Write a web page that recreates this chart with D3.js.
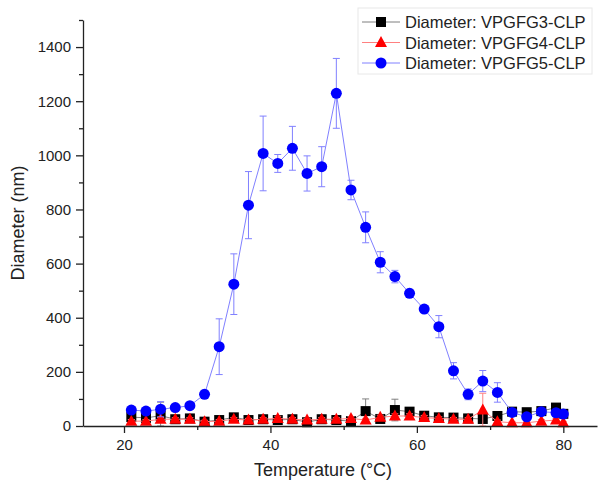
<!DOCTYPE html>
<html lang="en">
<head>
    <meta charset="UTF-8">
    <title>Diameter vs Temperature</title>
    <script src="https://d3js.org/d3.v7.min.js" charset="utf-8"></script>
    <style>
        body { margin: 0; background: #fff; }
        text { font-family: "Liberation Sans", Arial, sans-serif; fill: #222; }
    </style>
</head>
<body>
<script>
    // temperatures (°C)
    var temps = [21, 23, 25, 27, 29, 31, 33, 35, 37, 39, 41, 43, 45, 47, 49, 51, 53, 55, 57, 59,
                 61, 63, 65, 67, 69, 71, 73, 75, 77, 79, 80];

    // diameters (nm) and error bars, one array per sample
    var vpgfg3 = [33, 30, 38, 25, 28, 16, 22, 32, 22, 25, 22, 25, 14, 25, 22, 18, 55, 26, 59, 53,
                  38, 32, 31, 28, 26, 37, 53, 51, 55, 68, 45];
    var vpgfg3Err = [8, 6, 50, 6, 6, 5, 6, 8, 6, 6, 6, 6, 5, 6, 6, 6, 45, 8, 40, 10,
                     8, 6, 6, 6, 6, 6, 8, 8, 8, 10, 8];

    var vpgfg4 = [18, 18, 25, 25, 25, 16, 18, 25, 22, 25, 28, 25, 22, 25, 25, 28, 22, 32, 37, 37,
                  31, 28, 25, 25, 59, 16, 12, 12, 18, 22, 12];
    var vpgfg4Err = [6, 6, 6, 6, 6, 5, 6, 6, 6, 6, 8, 6, 6, 6, 6, 6, 6, 8, 8, 8,
                     8, 6, 6, 6, 62, 6, 5, 5, 6, 6, 5];

    var vpgfg5 = [59, 55, 62, 68, 75, 117, 293, 524, 816, 1007, 970, 1026, 933, 958, 1229, 872, 734, 605, 552, 490,
                  432, 367, 204, 117, 166, 124, 50, 34, 53, 49, 44];
    var vpgfg5Err = [8, 8, 28, 8, 8, 15, 103, 112, 124, 138, 33, 81, 65, 74, 129, 36, 57, 39, 23, 15,
                     10, 41, 30, 20, 39, 36, 10, 10, 10, 10, 8];

    var seriesNames = ["Diameter: VPGFG3-CLP", "Diameter: VPGFG4-CLP", "Diameter: VPGFG5-CLP"];
    var xTicks = [20, 40, 60, 80];
    var yTicks = [0, 200, 400, 600, 800, 1000, 1200, 1400];

    var width = 598, height = 494;
    var svg = d3.select("body").append("svg")
        .attr("width", width)
        .attr("height", height);

    // scales
    var x = d3.scaleLinear().domain([14.4, 84.6]).range([83, 597]);
    var y = d3.scaleLinear().domain([0, 1500]).range([426, 20]);

    var series = [
        {name: seriesNames[0], vals: vpgfg3, errs: vpgfg3Err, dot: "#000000", line: "#7f7f7f", shape: "square"},
        {name: seriesNames[1], vals: vpgfg4, errs: vpgfg4Err, dot: "#ff0000", line: "#ff8080", shape: "triangle"},
        {name: seriesNames[2], vals: vpgfg5, errs: vpgfg5Err, dot: "#0000ff", line: "#8080ff", shape: "circle"}
    ];

    function marker(g, s, cx, cy) {
        if (s.shape == "square") {
            g.append("rect").attr("x", cx - 5).attr("y", cy - 5)
                .attr("width", 10).attr("height", 10).attr("fill", s.dot);
        } else if (s.shape == "triangle") {
            g.append("path")
                .attr("d", "M" + cx + "," + (cy - 6.5) + "L" + (cx + 6) + "," + (cy + 4.5) + "L" + (cx - 6) + "," + (cy + 4.5) + "Z")
                .attr("fill", s.dot);
        } else {
            g.append("circle").attr("cx", cx).attr("cy", cy).attr("r", 5.5).attr("fill", s.dot);
        }
    }

    var line = d3.line()
        .x(function(d) { return x(d.t); })
        .y(function(d) { return y(d.v); });

    series.forEach(function(s) {
        var pts = temps.map(function(t, i) { return {t: t, v: s.vals[i], e: s.errs[i]}; });
        var g = svg.append("g");

        // error bars
        pts.forEach(function(d) {
            var top = y(d.v + d.e), bot = y(Math.max(0, d.v - d.e)), cx = x(d.t);
            g.append("path")
                .attr("d", "M" + cx + "," + top + "V" + bot +
                    "M" + (cx - 3.5) + "," + top + "H" + (cx + 3.5) +
                    "M" + (cx - 3.5) + "," + bot + "H" + (cx + 3.5))
                .attr("stroke", s.line).attr("stroke-width", 1).attr("fill", "none");
        });

        g.append("path").datum(pts)
            .attr("d", line)
            .attr("fill", "none")
            .attr("stroke", s.line)
            .attr("stroke-width", 1);

        pts.forEach(function(d) { marker(g, s, x(d.t), y(d.v)); });
    });

    // X axis
    svg.append("g")
        .attr("transform", "translate(0,426)")
        .call(d3.axisBottom(x).tickValues(xTicks).tickFormat(d3.format("d")).tickSize(7).tickPadding(6).tickSizeOuter(0));
    svg.append("g")
        .attr("transform", "translate(0,426)")
        .call(d3.axisBottom(x).tickValues([30, 50, 70]).tickSize(4).tickFormat("").tickSizeOuter(0))
        .select(".domain").remove();

    // Y axis
    svg.append("g")
        .attr("transform", "translate(83,0)")
        .call(d3.axisLeft(y).tickValues(yTicks).tickFormat(d3.format("d")).tickSize(7).tickPadding(5).tickSizeOuter(0));
    svg.append("g")
        .attr("transform", "translate(83,0)")
        .call(d3.axisLeft(y).tickValues([100, 300, 500, 700, 900, 1100, 1300, 1500]).tickSize(4).tickFormat("").tickSizeOuter(0))
        .select(".domain").remove();

    svg.selectAll(".tick text").style("font-size", "15px").style("font-family", "Liberation Sans, Arial, sans-serif").attr("fill", "#222");
    svg.selectAll(".domain, .tick line").attr("stroke", "#222").attr("stroke-width", 1.3);

    // axis titles
    svg.append("text")
        .attr("x", 323).attr("y", 476)
        .style("text-anchor", "middle")
        .style("font-size", "18px")
        .text("Temperature (°C)");

    svg.append("text")
        .attr("transform", "translate(24,223) rotate(-90)")
        .style("text-anchor", "middle")
        .style("font-size", "18px")
        .text("Diameter (nm)");

    // legend
    var legend = svg.append("g");
    legend.append("rect")
        .attr("x", 358).attr("y", 8).attr("width", 234).attr("height", 66)
        .attr("fill", "#fff").attr("stroke", "#e8e8e8");
    series.forEach(function(s, i) {
        var ly = 22 + i * 20.5;
        legend.append("line")
            .attr("x1", 362).attr("x2", 400).attr("y1", ly).attr("y2", ly)
            .attr("stroke", s.line).attr("stroke-width", 1);
        marker(legend, s, 381, ly);
        legend.append("text")
            .attr("x", 405).attr("y", ly + 6)
            .style("font-size", "16.5px")
            .text(s.name);
    });
</script>
</body>
</html>
